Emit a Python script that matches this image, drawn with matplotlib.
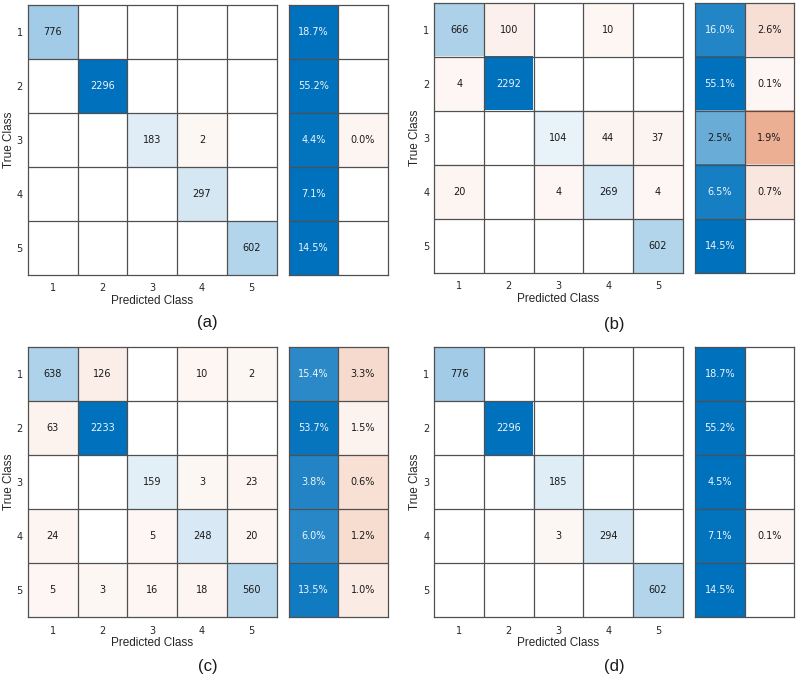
import numpy as np
import matplotlib
matplotlib.use("Agg")
import matplotlib.pyplot as plt

plt.rcParams['font.family'] = ['Liberation Sans', 'DejaVu Sans']

classes = ['1', '2', '3', '4', '5']

# confusion matrices (rows = true class, cols = predicted class)
cm_a = [[776, 0, 0, 0, 0],
        [0, 2296, 0, 0, 0],
        [0, 0, 183, 2, 0],
        [0, 0, 0, 297, 0],
        [0, 0, 0, 0, 602]]
cm_b = [[666, 100, 0, 10, 0],
        [4, 2292, 0, 0, 0],
        [0, 0, 104, 44, 37],
        [20, 0, 4, 269, 4],
        [0, 0, 0, 0, 602]]
cm_c = [[638, 126, 0, 10, 2],
        [63, 2233, 0, 0, 0],
        [0, 0, 159, 3, 23],
        [24, 0, 5, 248, 20],
        [5, 3, 16, 18, 560]]
cm_d = [[776, 0, 0, 0, 0],
        [0, 2296, 0, 0, 0],
        [0, 0, 185, 0, 0],
        [0, 0, 3, 294, 0],
        [0, 0, 0, 0, 602]]
panel_labels = ['(a)', '(b)', '(c)', '(d)']

blue = np.array([0.0, 0.447, 0.741])
orange = np.array([0.85, 0.325, 0.098])
W, H = 798, 678
min_shade = 0.045  # non-zero cells always get a faint tint


def px_axes(fig, l, t, r, b):
    return fig.add_axes([l / W, 1 - b / H, (r - l) / W, (b - t) / H])


def shade(frac, base):
    a = min_shade + (1 - min_shade) * frac
    return 1 - a * (1 - base)


def draw_cells(ax, vals, fracs, diag_mask, labels):
    nr, nc = vals.shape
    img = np.ones((nr, nc, 3))
    for i in range(nr):
        for j in range(nc):
            if vals[i, j] > 0:
                base = blue if diag_mask[i, j] else orange
                img[i, j] = shade(fracs[i, j], base)
                ax.text(j, i, labels[i][j], ha='center', va='center', fontsize=7,
                        family='DejaVu Sans',
                        color='#f0f4fa' if fracs[i, j] > 0.6 else '#1a1a1a')
    ax.imshow(img, aspect='auto', extent=(-0.5, nc - 0.5, nr - 0.5, -0.5),
              interpolation='nearest')
    for k in range(1, nr):
        ax.axhline(k - 0.5, color='#505050', lw=0.9)
    for k in range(1, nc):
        ax.axvline(k - 0.5, color='#505050', lw=0.9)
    for s in ax.spines.values():
        s.set_color('#505050')
        s.set_linewidth(0.9)


fig = plt.figure(figsize=(W / 100, H / 100), dpi=100)

boxes = [((27.7, 5, 276.7, 275), (288.7, 5, 387.7, 275)),
         ((434.3, 2.7, 682.7, 273), (695, 2.7, 794.3, 273)),
         ((27.7, 347.3, 276.7, 617.3), (288.7, 347.3, 387.7, 617.3)),
         ((434.3, 347.3, 682.7, 617.3), (695, 347.3, 794.3, 617.3))]
caption_y = [323, 325, 666, 666]

for cm, lab, (mbox, sbox), cy in zip([cm_a, cm_b, cm_c, cm_d], panel_labels, boxes, caption_y):
    cm = np.array(cm)
    total = cm.sum()
    eye = np.eye(len(classes), dtype=bool)
    aw = mbox[2] - mbox[0]
    ah = mbox[3] - mbox[1]

    ax = px_axes(fig, *mbox)
    texts = [[str(v) for v in row] for row in cm]
    draw_cells(ax, cm, cm / cm.max(), eye, texts)
    ax.set_xticks(range(len(classes)))
    ax.set_yticks(range(len(classes)))
    ax.set_xticklabels(classes, family='DejaVu Sans')
    ax.set_yticklabels(classes, family='DejaVu Sans')
    ax.tick_params(length=0, labelsize=7, colors='#262626')
    ax.tick_params(axis='x', pad=6)
    ax.tick_params(axis='y', pad=3.5)
    ax.set_xlabel('Predicted Class', fontsize=8.5, color='#262626', va='center')
    ax.set_ylabel('True Class', fontsize=8.5, color='#262626', va='center')
    ax.xaxis.set_label_coords(0.5, -26 / ah)
    ax.yaxis.set_label_coords(-19 / aw, 0.5)

    # row summary: correct / incorrect as share of all observations
    correct = np.diag(cm)
    wrong = cm.sum(axis=1) - correct
    summ = np.stack([correct, wrong], axis=1)
    rowsum = summ.sum(axis=1, keepdims=True)
    s_texts = [['%.1f%%' % (100.0 * v / total) for v in row] for row in summ]
    smask = np.zeros_like(summ, dtype=bool)
    smask[:, 0] = True
    sax = px_axes(fig, *sbox)
    draw_cells(sax, summ, summ / rowsum, smask, s_texts)
    sax.set_xticks([])
    sax.set_yticks([])

    cx = (mbox[0] + sbox[2]) / 2
    fig.text(cx / W, 1 - cy / H, lab, ha='center', va='center', fontsize=12,
             color='#1a1a1a')

fig.savefig('out.png', dpi=100)
